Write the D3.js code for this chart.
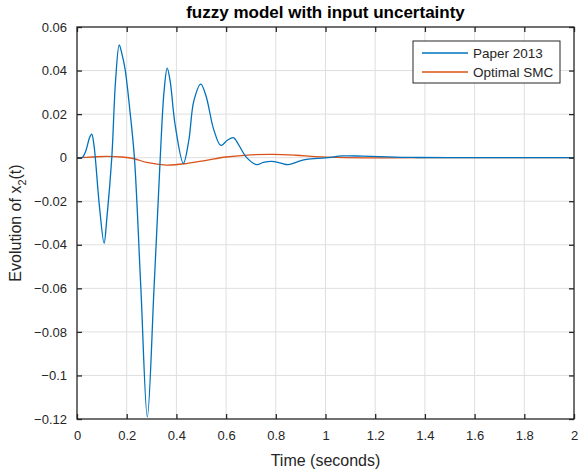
<!DOCTYPE html>
<html>
<head>
<meta charset="utf-8">
<script src="https://cdn.jsdelivr.net/npm/d3@7"></script>
<style>
  body { margin: 0; background: #fff; }
  text { font-family: "Liberation Sans", Arial, sans-serif; fill: #262626; }
</style>
</head>
<body>
<div id="chart"></div>
<script>
// Series data
const paperT = [0, 0.02, 0.035, 0.05, 0.059, 0.068, 0.09, 0.109, 0.12, 0.14, 0.155, 0.17, 0.18, 0.193, 0.213, 0.231, 0.257, 0.283, 0.31, 0.335, 0.35, 0.363, 0.375, 0.395, 0.428, 0.45, 0.47, 0.498, 0.52, 0.55, 0.579, 0.605, 0.629, 0.65, 0.683, 0.723, 0.75, 0.783, 0.82, 0.85, 0.89, 0.924, 1.0, 1.07, 1.15, 1.25, 1.35, 1.5, 2.0];
const paperY = [0, 0, 0.003, 0.009, 0.0108, 0.006, -0.022, -0.0393, -0.028, 0, 0.035, 0.0518, 0.048, 0.041, 0.0215, 0, -0.06, -0.119, -0.06, 0, 0.03, 0.0411, 0.035, 0.015, -0.0026, 0.008, 0.026, 0.0338, 0.028, 0.013, 0.0056, 0.008, 0.0092, 0.006, 0, -0.0032, -0.0022, -0.0017, -0.0025, -0.0032, -0.0018, -0.0008, -0.0001, 0.0008, 0.0007, 0.0004, 0.0001, 0, 0];

const smcT = [0, 0.06, 0.12, 0.18, 0.231, 0.28, 0.36, 0.44, 0.52, 0.6, 0.7, 0.79, 0.88, 0.96, 1.05, 1.2, 1.4, 2.0];
const smcY = [0, 0.0003, 0.0006, 0.0003, -0.0005, -0.0022, -0.0034, -0.0027, -0.0012, 0.0003, 0.0013, 0.0015, 0.0011, 0.0005, 0.0001, -0.0001, 0, 0];

const xTicks = [0, 0.2, 0.4, 0.6, 0.8, 1, 1.2, 1.4, 1.6, 1.8, 2];
const yTicks = [-0.12, -0.1, -0.08, -0.06, -0.04, -0.02, 0, 0.02, 0.04, 0.06];
const seriesNames = ["Paper 2013", "Optimal SMC"];
const seriesColors = ["#0072BD", "#D95319"];

const W = 579, H = 472;
const margin = { top: 27, right: 5, bottom: 53, left: 77 },
      width = W - margin.left - margin.right,
      height = H - margin.top - margin.bottom;

const root = d3.select("#chart").append("svg")
  .attr("width", W).attr("height", H);

const svg = root.append("g")
  .attr("transform", `translate(${margin.left},${margin.top})`);

const x = d3.scaleLinear().domain([0, 2]).range([0, width]);
const y = d3.scaleLinear().domain([-0.12, 0.06]).range([height, 0]);

// grid
svg.append("g").selectAll("line").data(xTicks.slice(1, -1)).join("line")
  .attr("x1", d => x(d)).attr("x2", d => x(d))
  .attr("y1", 0).attr("y2", height)
  .attr("stroke", "#dfdfdf").attr("stroke-width", 1);
svg.append("g").selectAll("line").data(yTicks.slice(1, -1)).join("line")
  .attr("y1", d => y(d)).attr("y2", d => y(d))
  .attr("x1", 0).attr("x2", width)
  .attr("stroke", "#dfdfdf").attr("stroke-width", 1);

// lines
const line = d3.line().curve(d3.curveCatmullRom.alpha(0.5));
const series = [
  paperT.map((t, i) => [x(t), y(paperY[i])]),
  smcT.map((t, i) => [x(t), y(smcY[i])])
];
series.slice().reverse().forEach((pts, k) => {
  svg.append("path")
    .attr("d", line(pts))
    .attr("fill", "none")
    .attr("stroke", seriesColors[1 - k])
    .attr("stroke-width", 1.3);
});

// axes (ticks pointing inward, box on)
const fmt = d => d3.format("")(+d.toFixed(2));
const ax = (g) => g.selectAll(".domain").remove();

svg.append("g")
  .attr("transform", `translate(0,${height})`)
  .call(d3.axisBottom(x).tickValues(xTicks).tickSize(-5).tickPadding(12).tickFormat(fmt))
  .call(ax)
  .call(g => g.selectAll("text").attr("font-size", 13).attr("fill", "#262626"));
svg.append("g")
  .call(d3.axisLeft(y).tickValues(yTicks).tickSize(-5).tickPadding(10).tickFormat(fmt))
  .call(ax)
  .call(g => g.selectAll("text").attr("font-size", 13).attr("fill", "#262626"));
svg.append("g")
  .call(d3.axisTop(x).tickValues(xTicks).tickSize(-5).tickFormat(""))
  .call(ax);
svg.append("g")
  .attr("transform", `translate(${width},0)`)
  .call(d3.axisRight(y).tickValues(yTicks).tickSize(-5).tickFormat(""))
  .call(ax);
svg.selectAll(".tick line").attr("stroke", "#262626").attr("stroke-width", 1.3);

svg.append("rect")
  .attr("x", 0).attr("y", 0).attr("width", width).attr("height", height)
  .attr("fill", "none").attr("stroke", "#262626").attr("stroke-width", 1.3);

// title & labels
root.append("text")
  .attr("x", margin.left + width / 2).attr("y", 18)
  .attr("text-anchor", "middle").attr("font-size", 17).attr("font-weight", "bold")
  .style("fill", "#000")
  .text("fuzzy model with input uncertainty");

root.append("text")
  .attr("x", margin.left + width / 2).attr("y", 466)
  .attr("text-anchor", "middle").attr("font-size", 16)
  .text("Time (seconds)");

const yl = root.append("text")
  .attr("transform", `translate(21,${margin.top + height / 2}) rotate(-90)`)
  .attr("text-anchor", "middle").attr("font-size", 16);
yl.append("tspan").text("Evolution of x");
yl.append("tspan").attr("font-size", 11).attr("dy", 5).text("2");
yl.append("tspan").attr("dy", -5).text("(t)");

// legend
const lg = root.append("g").attr("transform", "translate(413,41)");
lg.append("rect").attr("width", 147).attr("height", 42)
  .attr("fill", "#fff").attr("stroke", "#262626").attr("stroke-width", 1);
seriesNames.forEach((name, i) => {
  const yy = 12 + i * 19;
  lg.append("line").attr("x1", 9).attr("x2", 55).attr("y1", yy).attr("y2", yy)
    .attr("stroke", seriesColors[i]).attr("stroke-width", 1.3);
  lg.append("text").attr("x", 60).attr("y", yy + 4.7).attr("font-size", 13.5).text(name);
});
</script>
</body>
</html>
